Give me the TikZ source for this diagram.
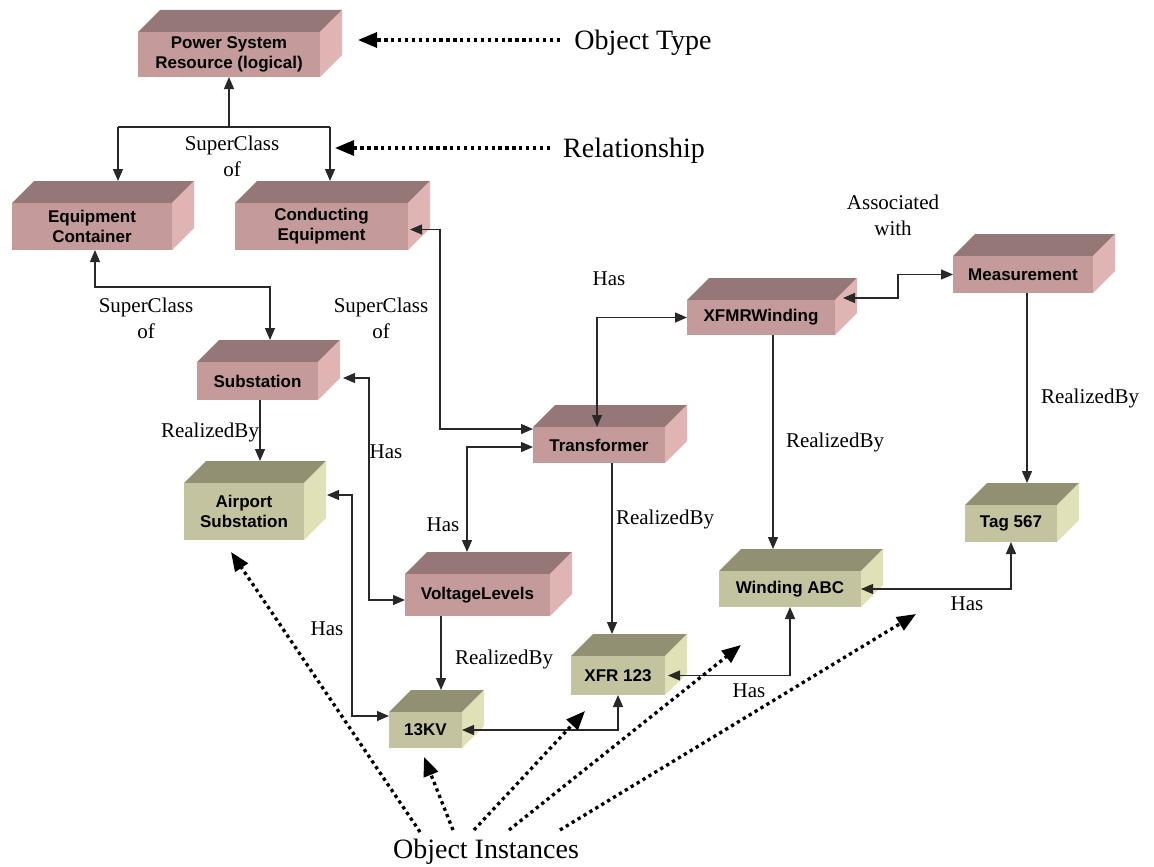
\documentclass[tikz,border=0pt]{standalone}
\usepackage{fontspec}
\setmainfont{Liberation Serif}
\newfontfamily\boxfont{Liberation Sans}
\usetikzlibrary{arrows.meta,calc}
\definecolor{pfront}{RGB}{196,154,154}
\definecolor{ptop}{RGB}{150,119,119}
\definecolor{pside}{RGB}{225,180,180}
\definecolor{gfront}{RGB}{196,195,159}
\definecolor{gtop}{RGB}{146,144,115}
\definecolor{gside}{RGB}{225,225,184}
\definecolor{linec}{RGB}{40,40,40}
\tikzset{
  boxtext/.style={inner sep=0pt, outer sep=0pt, align=center, text=black,
    font=\boxfont\bfseries\fontsize{17}{20}\selectfont},
  ptop/.style={fill=ptop}, pside/.style={fill=pside},
  gtop/.style={fill=gtop}, gside/.style={fill=gside},
  conn/.style={draw=linec, line width=1.3pt, >={Triangle[length=12pt,width=10pt]}},
  dotarr/.style={draw=black, line width=3.3pt, dash pattern=on 3.3pt off 3.6pt,
    -{Triangle[length=19pt,width=15pt]}},
  lbl/.style={align=center, inner sep=0pt, font=\fontsize{21}{26}\selectfont},
  big/.style={inner sep=0pt, font=\fontsize{28}{32}\selectfont, anchor=base},
}
\def\dd{22}
\newcommand\mkbox[7]{%
  \pgfmathsetmacro\bw{#4-#2}%
  \pgfmathsetmacro\bh{#5-#3}%
  \pgfmathsetmacro\bx{(#2+#4)/2}%
  \pgfmathsetmacro\by{(#3+#5)/2}%
  \fill[#6top] (#2,#3) -- ++(\dd,-\dd) -- ++(\bw,0) -- (#4,#3) -- cycle;
  \fill[#6side] (#4,#3) -- ++(\dd,-\dd) -- ++(0,\bh) -- (#4,#5) -- cycle;
  \node[boxtext, fill=#6front, minimum width=\bw pt, minimum height=\bh pt] (#1) at (\bx,\by) {#7};
  \coordinate (#1t) at (\bx+\dd,#3-\dd);
}
\begin{document}
\begin{tikzpicture}[x=1pt,y=-1pt]
\useasboundingbox[fill=white] (0,0) rectangle (1154,867);
% boxes
\mkbox{ps}{138}{32}{320}{77}{p}{Power System\\Resource (logical)}
\mkbox{ec}{12}{203}{172}{250}{p}{Equipment\\Container}
\mkbox{ce}{235}{203}{408}{250}{p}{Conducting\\Equipment}
\mkbox{sub}{197}{362}{318}{400}{p}{Substation}
\mkbox{air}{184}{483}{304}{540}{g}{Airport\\Substation}
\mkbox{tr}{533}{427}{665}{463}{p}{Transformer}
\mkbox{xw}{687}{300}{835}{335}{p}{XFMRWinding}
\mkbox{me}{953}{256}{1093}{293}{p}{Measurement}
\mkbox{vl}{405}{574}{550}{616}{p}{VoltageLevels}
\mkbox{kv}{389}{712}{462}{748}{g}{13KV}
\mkbox{xfr}{571}{656}{665}{695}{g}{XFR 123}
\mkbox{wa}{719}{571}{861}{607}{g}{Winding ABC}
\mkbox{tag}{965}{505}{1057}{542}{g}{Tag 567}
% superclass tree
\coordinate (jL) at (118,127);
\coordinate (jR) at (330,127);
\draw[conn,->] (ps.south |- jL) -- (ps.south);
\draw[conn] (jL) -- (jR);
\draw[conn,->] (jL) -- (jL |- ect);
\draw[conn,->] (jR) -- (jR |- cet);
% connectors
\draw[conn,<->] ([xshift=3pt]ec.south) -- ++(0,37) -| ([xshift=-9.5pt]subt);
\draw[conn,<->] ([xshift=2pt,yshift=-3pt]ce.east) -- ++(30,0) |- ([yshift=-2pt]tr.north west);
\draw[conn,<->] ([xshift=-2pt]tr.north) |- (xw.west);
\draw[conn,<->] ([xshift=8pt,yshift=19.5pt]xw.east) -- ++(55,0) |- (me.west);
\draw[conn,->] ([xshift=12pt]xw.south) -- ([xshift=12pt]xw.south |- wat);
\draw[conn,->] ([xshift=4pt]me.south) -- ([xshift=4pt]me.south |- tagt);
\draw[conn,->] ([xshift=2.5pt]sub.south) -- ([xshift=2.5pt]sub.south |- airt);
\draw[conn,<->] ([xshift=25pt,yshift=3pt]sub.east) -- ++(26,0) |- ([yshift=-5pt]vl.west);
\draw[conn,<->] ([yshift=-2pt]tr.west) -| ([xshift=-32.5pt]vlt);
\coordinate (kk) at ([xshift=-6.5pt]kvt);
\draw[conn,->] (vl.south -| kk) -- (kk);
\draw[conn,->] ([xshift=13pt]tr.south) -- ([xshift=13pt]tr.south |- xfrt);
\draw[conn,<->] ([xshift=23pt,yshift=16.5pt]air.east) -- ++(25,0) |- ([yshift=14pt]kv.west);
\draw[conn,<->] (kv.east) -| (xfr.south);
\draw[conn,<->] ([xshift=3pt]xfr.east) -| (wa.south);
\draw[conn,<->] (wa.east) -| (tag.south);
% labels
\node[lbl] (l1) at (232,156) {SuperClass\\of};
\node[lbl] (l2) at (146,318) {SuperClass\\of};
\node[lbl] (l3) at (381,318) {SuperClass\\of};
\node[lbl] (l4) at (609,279) {Has};
\node[lbl] (l5) at (893,215) {Associated\\with};
\node[lbl] (l6) at (835,442) {RealizedBy};
\node[lbl] (l7) at (1090,398) {RealizedBy};
\node[lbl] (l8) at (210,432) {RealizedBy};
\node[lbl] (l9) at (386,452) {Has};
\node[lbl] (l10) at (443,525) {Has};
\node[lbl] (l11) at (504,659) {RealizedBy};
\node[lbl] (l12) at (665,519) {RealizedBy};
\node[lbl] (l13) at (327,629) {Has};
\node[lbl] (l14) at (749,691) {Has};
\node[lbl] (l15) at (967,604) {Has};
% legends
\node[big] (ot) at (643,49) {Object Type};
\node[big] (rel) at (634,157) {Relationship};
\node[big] (oi) at (486,858) {Object Instances};
\coordinate (otS) at (560,40);
\coordinate (otE) at (358,40);
\draw[dotarr] (otS) -- (otE);
\coordinate (relS) at (550,148);
\coordinate (relE) at (335,148);
\draw[dotarr] (relS) -- (relE);
\coordinate (o1) at (420,832);
\coordinate (o2) at (453,830);
\coordinate (o3) at (474,830);
\coordinate (o4) at (509,830);
\coordinate (o5) at (560,830);
\coordinate (t1) at (231,552);
\coordinate (t2) at (424,757);
\coordinate (t3) at (585,711);
\coordinate (t4) at (741,645);
\coordinate (t5) at (916,614);
\draw[dotarr] (o1) -- (t1);
\draw[dotarr] (o2) -- (t2);
\draw[dotarr] (o3) -- (t3);
\draw[dotarr] (o4) -- (t4);
\draw[dotarr] (o5) -- (t5);
\end{tikzpicture}
\end{document}
